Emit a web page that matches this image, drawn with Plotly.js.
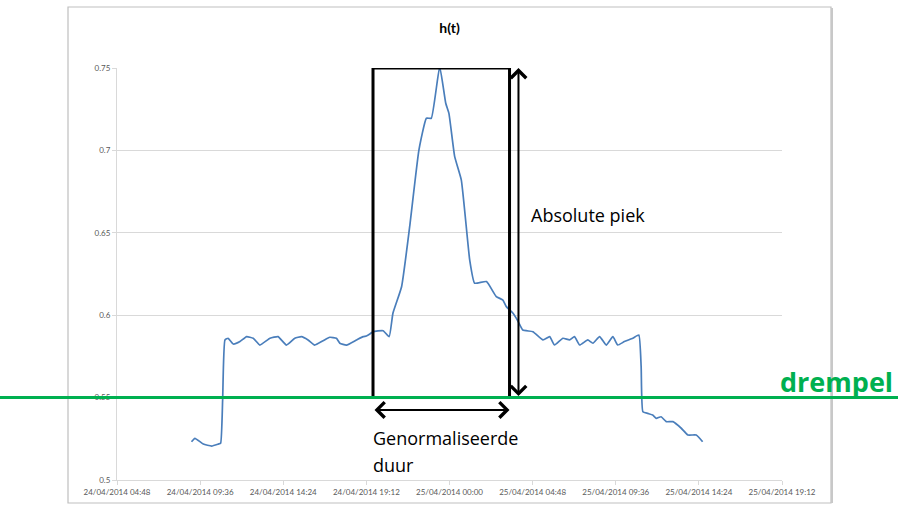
<!DOCTYPE html>
<html>
<head>
<meta charset="utf-8">
<script src="https://cdn.plot.ly/plotly-3.0.1.min.js"></script>
<style>html,body{margin:0;padding:0;background:#fff;}#chart{width:898px;height:506px;}</style>
</head>
<body>
<div id="chart"></div>
<script>
// Time stamps
const times = [
 '2014-04-24 09:06','2014-04-24 09:18','2014-04-24 09:47','2014-04-24 10:16','2014-04-24 10:39','2014-04-24 10:47',
 '2014-04-24 10:54','2014-04-24 11:02','2014-04-24 11:13','2014-04-24 11:31','2014-04-24 11:54','2014-04-24 12:17',
 '2014-04-24 12:40','2014-04-24 13:03','2014-04-24 13:38','2014-04-24 14:06','2014-04-24 14:35','2014-04-24 15:04',
 '2014-04-24 15:27','2014-04-24 15:50','2014-04-24 16:13','2014-04-24 16:42','2014-04-24 17:05','2014-04-24 17:28',
 '2014-04-24 17:40','2014-04-24 18:03','2014-04-24 18:38','2014-04-24 19:01','2014-04-24 19:12','2014-04-24 19:24',
 '2014-04-24 19:35','2014-04-24 20:10','2014-04-24 20:31','2014-04-24 20:44','2014-04-24 21:14','2014-04-24 21:42',
 '2014-04-24 22:14','2014-04-24 22:40','2014-04-24 22:57','2014-04-24 23:26','2014-04-24 23:47','2014-04-24 23:58',
 '2014-04-25 00:18','2014-04-25 00:41','2014-04-25 01:10','2014-04-25 01:27','2014-04-25 02:08','2014-04-25 02:42',
 '2014-04-25 03:05','2014-04-25 03:17','2014-04-25 03:40','2014-04-25 03:55','2014-04-25 04:14','2014-04-25 04:49',
 '2014-04-25 05:24','2014-04-25 05:47','2014-04-25 06:04','2014-04-25 06:33','2014-04-25 06:56','2014-04-25 07:13',
 '2014-04-25 07:31','2014-04-25 07:59','2014-04-25 08:17','2014-04-25 08:40','2014-04-25 09:03','2014-04-25 09:26',
 '2014-04-25 09:43','2014-04-25 10:06','2014-04-25 10:35','2014-04-25 10:56','2014-04-25 11:04','2014-04-25 11:10',
 '2014-04-25 11:27','2014-04-25 11:44','2014-04-25 11:56','2014-04-25 12:13','2014-04-25 12:31','2014-04-25 12:54',
 '2014-04-25 13:23','2014-04-25 13:46','2014-04-25 14:15','2014-04-25 14:37'
];
// h(t) values
const hValues = [
 0.5232,0.5253,0.5218,0.5206,0.5218,0.5223,
 0.5485,0.5850,0.5860,0.5825,0.5840,0.5870,
 0.5860,0.5819,0.5860,0.5870,0.5819,0.5860,
 0.5870,0.5850,0.5819,0.5845,0.5866,0.5860,
 0.5830,0.5819,0.5850,0.5870,0.5874,0.5886,
 0.5900,0.5906,0.5870,0.6012,0.6173,0.6537,
 0.7002,0.7195,0.7195,0.7508,0.7286,0.7225,
 0.6962,0.6820,0.6335,0.6194,0.6204,0.6113,
 0.6092,0.6052,0.6012,0.5971,0.5910,0.5900,
 0.5850,0.5870,0.5819,0.5860,0.5850,0.5870,
 0.5819,0.5850,0.5830,0.5870,0.5819,0.5870,
 0.5819,0.5840,0.5860,0.5880,0.5687,0.5414,
 0.5404,0.5394,0.5374,0.5384,0.5354,0.5354,
 0.5314,0.5273,0.5273,0.5232
];
const threshold = 0.55;
const peak = 0.75;
const durationStart = '2014-04-24 19:35';
const durationEnd = '2014-04-25 03:28';
const peakArrowTime = '2014-04-25 03:59';
const yTicks = [0.5, 0.55, 0.6, 0.65, 0.7, 0.75];
const yTickText = ['0.5', '0.55', '0.6', '0.65', '0.7', '0.75'];
const xStart = '2014-04-24 04:48';
const xEnd = '2014-04-25 19:12';

const trace = {
  x: times, y: hValues, type: 'scatter', mode: 'lines',
  line: {color: '#4a7ebb', width: 1.7, shape: 'spline', smoothing: 0.4},
  hoverinfo: 'x+y', showlegend: false
};

const W = 665, H = 412, L = 117, T = 68;
const px = v => (v - L) / W;
const py = v => (T + H - v) / H;

const layout = {
  width: 898, height: 506,
  margin: {l: 117, r: 116, t: 68, b: 26},
  paper_bgcolor: '#ffffff', plot_bgcolor: '#ffffff',
  font: {family: 'Lato, "Liberation Sans", sans-serif', color: '#595959'},
  title: {text: '<b>h(t)</b>', x: 0.5, xanchor: 'center', xref: 'paper', y: 1 - 28/506, yanchor: 'middle',
          font: {size: 14, color: '#000000', family: 'Lato, "Liberation Sans", sans-serif'}},
  xaxis: {
    type: 'date', range: [xStart, xEnd], tick0: xStart, dtick: 4.8*3600*1000,
    tickformat: '%d/%m/%Y %H:%M', tickfont: {size: 8, color: '#595959'},
    showgrid: false, zeroline: false, showline: true, linecolor: '#d9d9d9', linewidth: 1,
    ticks: 'outside', ticklen: 4, tickcolor: '#d9d9d9'
  },
  yaxis: {
    range: [0.5, 0.75], tickvals: yTicks, ticktext: yTickText, tickfont: {size: 8, color: '#595959'},
    showgrid: true, gridcolor: '#d9d9d9', gridwidth: 1, zeroline: false,
    showline: true, linecolor: '#d9d9d9', linewidth: 1, ticks: 'outside', ticklen: 4, tickcolor: '#d9d9d9'
  },
  shapes: [
    {type: 'rect', xref: 'paper', yref: 'paper', x0: px(68), x1: px(831), y0: py(503), y1: py(7),
     line: {color: '#bfbfbf', width: 1.2}, layer: 'below'},
    {type: 'line', xref: 'paper', yref: 'paper', x0: px(832), x1: px(832), y0: py(503), y1: py(8),
     line: {color: '#c8c8c8', width: 2}, layer: 'below'},
    {type: 'rect', xref: 'x', yref: 'y', x0: durationStart, x1: durationEnd, y0: threshold, y1: peak,
     line: {color: '#000000', width: 3}, layer: 'above'},
    {type: 'line', xref: 'paper', yref: 'y', x0: px(0), x1: px(898), y0: threshold, y1: threshold,
     line: {color: '#00b050', width: 3}, layer: 'above'}
  ],
  annotations: [
    {xref: 'x', yref: 'y', axref: 'x', ayref: 'y', x: peakArrowTime, y: peak, ax: peakArrowTime, ay: threshold,
     text: '', showarrow: true, arrowside: 'end+start', arrowhead: 4, startarrowhead: 4,
     arrowsize: 1.5, startarrowsize: 1.5, arrowwidth: 2, arrowcolor: '#000000', standoff: 0, startstandoff: 0},
    {xref: 'x', yref: 'y', axref: 'x', ayref: 'y', x: durationEnd, y: 0.5425, ax: durationStart, ay: 0.5425,
     text: '', showarrow: true, arrowside: 'end+start', arrowhead: 4, startarrowhead: 4,
     arrowsize: 1.5, startarrowsize: 1.5, arrowwidth: 2, arrowcolor: '#000000', standoff: 0, startstandoff: 0},
    {xref: 'paper', yref: 'paper', x: px(529), y: py(215), xanchor: 'left', yanchor: 'middle', showarrow: false,
     text: 'Absolute piek', font: {size: 18, color: '#000000', family: '"Open Sans", Lato, sans-serif'}},
    {xref: 'paper', yref: 'paper', x: px(371), y: py(438), xanchor: 'left', yanchor: 'middle', showarrow: false,
     text: 'Genormaliseerde', font: {size: 18, color: '#000000', family: '"Open Sans", Lato, sans-serif'}},
    {xref: 'paper', yref: 'paper', x: px(371), y: py(465), xanchor: 'left', yanchor: 'middle', showarrow: false,
     text: 'duur', font: {size: 18, color: '#000000', family: '"Open Sans", Lato, sans-serif'}},
    {xref: 'paper', yref: 'paper', x: px(895), y: py(381), xanchor: 'right', yanchor: 'middle', showarrow: false,
     text: '<b>drempel</b>', font: {size: 27, color: '#00b050', family: '"Open Sans", Lato, sans-serif'}}
  ]
};

Plotly.newPlot('chart', [trace], layout, {displayModeBar: false, staticPlot: true});
</script>
</body>
</html>
